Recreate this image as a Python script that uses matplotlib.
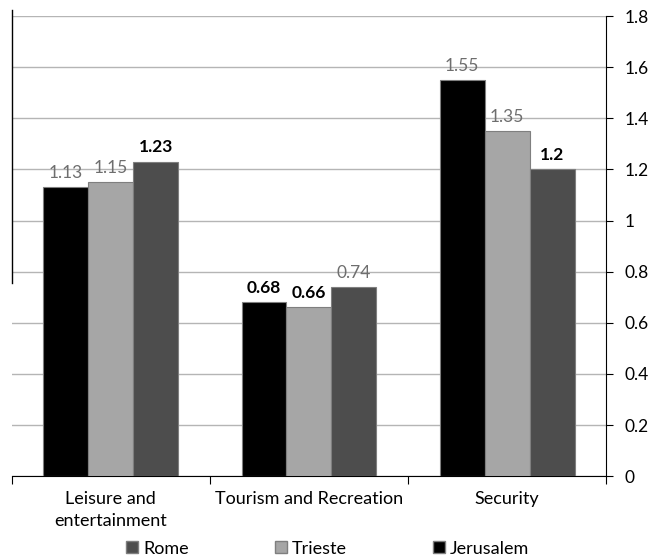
import numpy as np
from matplotlib import pyplot as plt
from matplotlib.lines import Line2D

plt.rcParams['font.family'] = ['Lato', 'DejaVu Sans']

categories = ['Leisure and\nentertainment', 'Tourism and Recreation', 'Security']
jerusalem = [1.13, 0.68, 1.55]
trieste = [1.15, 0.66, 1.35]
rome = [1.23, 0.74, 1.2]
# which labels are drawn bold/black (others light gray)
bold_jer = [False, True, False]
bold_tri = [False, True, False]
bold_rome = [True, False, True]

fig = plt.figure(figsize=(6.56, 5.55), dpi=100)
ax = fig.add_axes([0.018, 0.142, 0.906, 0.829])

x = np.arange(len(categories))
w = 0.227
series = [(jerusalem, '#000000', bold_jer, -w),
          (trieste, '#a6a6a6', bold_tri, 0),
          (rome, '#4d4d4d', bold_rome, w)]
for vals, col, bolds, off in series:
    bars = ax.bar(x + off, vals, w, color=col, edgecolor='#7f7f7f', linewidth=0.8, zorder=3)
    for b, v, bd in zip(bars, vals, bolds):
        ax.text(b.get_x() + b.get_width() / 2, v + 0.025, f'{v:g}',
                ha='center', va='bottom', fontsize=12.5,
                color='#000000' if bd else '#6e6e6e',
                fontweight='bold' if bd else 'normal')

ax.set_xlim(-0.5, 2.5)
ax.set_ylim(0, 1.8)
ax.set_yticks(np.arange(0, 1.81, 0.2))
ax.set_yticklabels(['0', '0.2', '0.4', '0.6', '0.8', '1', '1.2', '1.4', '1.6', '1.8'], fontsize=12.5)
ax.yaxis.tick_right()
ax.tick_params(axis='y', direction='out', length=5, pad=8, color='black')
ax.grid(axis='y', color='#b5b5b5', linewidth=1, zorder=0)

ax.set_xticks([-0.5, 0.5, 1.5, 2.5])
ax.set_xticklabels([])
ax.set_xticks(x, minor=True)
ax.set_xticklabels(categories, minor=True, fontsize=13, linespacing=1.45)
ax.tick_params(axis='x', which='major', direction='out', length=6)
ax.tick_params(axis='x', which='minor', length=0, pad=11)

ax.spines['top'].set_visible(False)
ax.spines['left'].set_visible(False)
ax.spines['right'].set_bounds(0, 1.8)

# partial left line
ax.add_line(Line2D([0, 0], [0.42, 1.013], transform=ax.transAxes, color='black',
                   linewidth=1, clip_on=False))

handles = [Line2D([], [], marker='s', linestyle='none', markersize=9, color=c, markeredgecolor='#7f7f7f')
           for c in ['#4d4d4d', '#a6a6a6', '#000000']]
fig.legend(handles, ['Rome', 'Trieste', 'Jerusalem'], loc='lower center',
           bbox_to_anchor=(0.497, -0.032), ncol=3, frameon=False, fontsize=13,
           handletextpad=0.1, columnspacing=4.6, handlelength=1)

plt.savefig('out.png')
